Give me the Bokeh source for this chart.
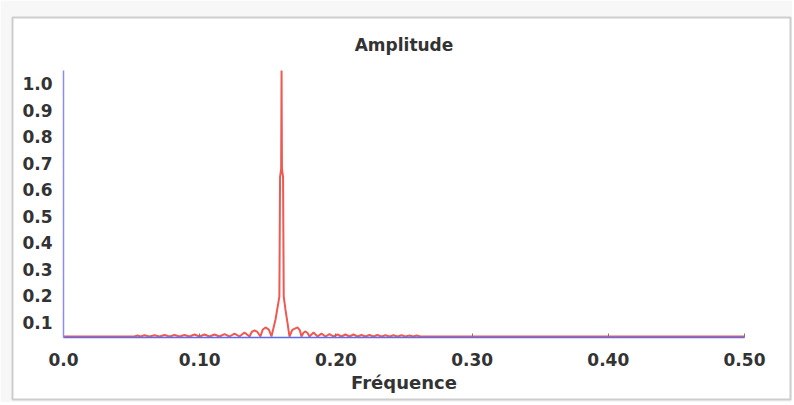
from bokeh.plotting import figure
from bokeh.models import Range1d, LinearAxis, FixedTicker, Label
from bokeh.embed import file_html
from bokeh.resources import INLINE

# ---- data ----
freq = [0.0, 0.0521, 0.0543, 0.0565, 0.0595, 0.0631, 0.0668, 0.0705, 0.0742, 0.0778,
        0.0815, 0.0852, 0.0888, 0.0925, 0.0962, 0.0999, 0.1035, 0.1072, 0.1109, 0.1145,
        0.1182, 0.1219, 0.1256, 0.1292, 0.1329, 0.1366, 0.1382, 0.1402, 0.1424, 0.1446,
        0.1462, 0.1483, 0.1508, 0.1527,
        0.1557, 0.1585, 0.1590, 0.1598, 0.1601, 0.1604, 0.1612, 0.1617, 0.1630, 0.1645,
        0.1659, 0.1680, 0.1718, 0.1735, 0.1747, 0.1762, 0.1777, 0.1792, 0.1806, 0.1836,
        0.1865, 0.1894, 0.1924, 0.1953,
        0.1982, 0.2012, 0.2041, 0.2070, 0.2100, 0.2129, 0.2159, 0.2188, 0.2217, 0.2247,
        0.2276, 0.2305, 0.2335, 0.2364, 0.2394, 0.2423, 0.2452, 0.2482, 0.2511, 0.2540,
        0.2570, 0.2592, 0.2621, 0.5]
amplitude = [0.0, 0.0, 0.004, 0.0, 0.0045, 0.0, 0.0045, 0.0, 0.0056, 0.0,
             0.0056, 0.0, 0.0056, 0.0, 0.0075, 0.0, 0.0075, 0.0, 0.0075, 0.0,
             0.009, 0.0, 0.011, 0.0, 0.015, 0.0, 0.017, 0.023, 0.017, 0.0,
             0.025, 0.034, 0.026, 0.0,
             0.065, 0.15, 0.60, 0.63, 1.0, 0.63, 0.60, 0.15, 0.10, 0.05,
             0.0, 0.025, 0.034, 0.024, 0.0, 0.014, 0.019, 0.013, 0.0, 0.015,
             0.0, 0.011, 0.0, 0.009,
             0.0, 0.0075, 0.0, 0.0075, 0.0, 0.0075, 0.0, 0.0056, 0.0, 0.0056,
             0.0, 0.0056, 0.0, 0.0045, 0.0, 0.0045, 0.0, 0.0045, 0.0, 0.004,
             0.0, 0.004, 0.0, 0.0]

x_ticks = [0.0, 0.1, 0.2, 0.3, 0.4, 0.5]
x_tick_labels = ["0.0", "0.10", "0.20", "0.30", "0.40", "0.50"]
y_ticks = [0.1, 0.2, 0.3, 0.4, 0.5, 0.6, 0.7, 0.8, 0.9, 1.0]
y_tick_labels = ["0.1", "0.2", "0.3", "0.4", "0.5", "0.6", "0.7", "0.8", "0.9", "1.0"]
chart_title = "Amplitude"

TEXT = "#333333"
FONT = "DejaVu Sans"

# the plot frame is the grey panel; the axes sit inside it at fixed locations
p = figure(width=792, height=402, output_backend="svg", toolbar_location=None,
           x_range=Range1d(-0.03744, 0.53377), y_range=Range1d(-0.2368, 1.1992),
           x_axis_location=None, y_axis_location=None,
           min_border_left=12, min_border_right=2, min_border_top=17, min_border_bottom=3)
p.outline_line_color = "#cdcdcd"
p.outline_line_width = 2
p.grid.visible = False
p.background_fill_color = "white"
p.border_fill_color = "#f7f7f7"

p.add_layout(Label(x=0.25, y=1.0977, text=chart_title,
                   text_align="center", text_baseline="middle",
                   text_font=FONT, text_font_size="17px", text_font_style="bold",
                   text_color=TEXT))

# label axis for amplitude, drawn as in the source with labels just below their values
p.extra_y_ranges = {"lab": Range1d(-0.1898, 1.2485)}
yax = LinearAxis(y_range_name="lab", ticker=FixedTicker(ticks=y_ticks),
                 fixed_location=0.0, bounds=(0.0437, 1.049))
yax.major_label_overrides = {t: s for t, s in zip(y_ticks, y_tick_labels)}
yax.axis_line_color = "#8c8cec"
yax.axis_line_width = 1.5
yax.major_tick_line_color = None
yax.minor_tick_line_color = None
yax.major_label_standoff = 5
yax.major_label_text_font = FONT
yax.major_label_text_font_size = "17px"
yax.major_label_text_font_style = "bold"
yax.major_label_text_color = TEXT
p.add_layout(yax, "left")

xax = LinearAxis(ticker=FixedTicker(ticks=x_ticks), axis_label="Fréquence",
                 fixed_location=-0.0038, bounds=(0.0, 0.5))
xax.major_label_overrides = {t: s for t, s in zip(x_ticks, x_tick_labels)}
xax.axis_line_color = "#5a6cf0"
xax.axis_line_width = 1.5
xax.major_tick_in = 4
xax.major_tick_out = 0
xax.major_tick_line_color = "#8a7070"
xax.minor_tick_line_color = None
xax.major_label_standoff = 15
xax.major_label_text_font = FONT
xax.major_label_text_font_size = "17px"
xax.major_label_text_font_style = "bold"
xax.major_label_text_color = TEXT
xax.axis_label_text_font = FONT
xax.axis_label_text_font_size = "18px"
xax.axis_label_text_font_style = "bold"
xax.axis_label_text_color = TEXT
xax.axis_label_standoff = 3
p.add_layout(xax, "below")

p.line(freq, amplitude, line_color="#ee5a52", line_width=2)

open("out.html", "w").write(file_html(p, INLINE))
